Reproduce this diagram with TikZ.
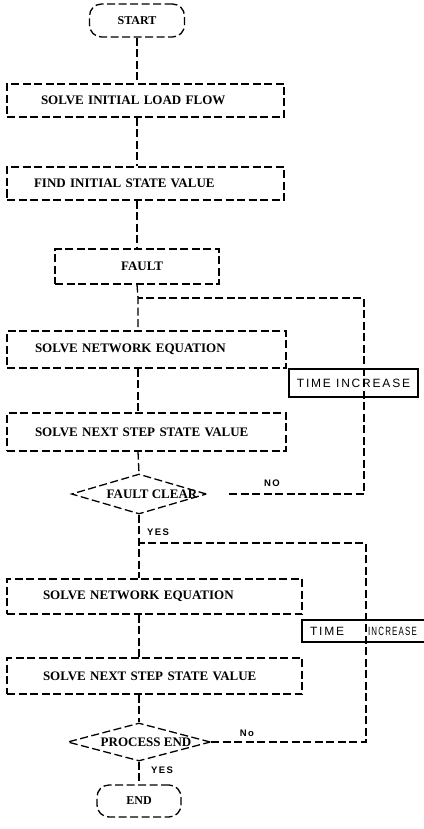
\documentclass[tikz,border=0pt]{standalone}
\usepackage{fontspec}
\usepackage{graphicx}
\setmainfont{Liberation Serif}
\newfontfamily\hand[LetterSpace=15]{Liberation Sans}
\usetikzlibrary{shapes.geometric}
\tikzset{
  dline/.style={draw=black, line width=1.3pt, dash pattern=on 8pt off 3.5pt},
  proc/.style={dline, align=left, inner ysep=0pt, font=\bfseries\fontsize{13}{15}\selectfont},
  term/.style={dline, rounded corners=12pt, inner sep=0pt, font=\bfseries\fontsize{12}{14}\selectfont},
  dec/.style={dline, shape=diamond, inner sep=0pt},
  dectext/.style={inner sep=0pt, font=\bfseries\fontsize{13}{15}\selectfont},
  tbox/.style={draw=black, line width=1.2pt, inner sep=0pt, align=left, font=\hand\fontsize{12}{14}\selectfont},
  lbl/.style={inner sep=0pt, font=\hand\bfseries\fontsize{9.5}{11}\selectfont}
}
\begin{document}
\begin{tikzpicture}[x=1pt,y=-1pt]
\useasboundingbox (0,0) rectangle (423,829);
% nodes
\node[term, minimum width=95pt, minimum height=33pt] (start) at (137,20.5) {START};
\node[proc, minimum height=33pt, text width=209pt, inner xsep=34pt] (b1) at (145.5,100.5) {SOLVE INITIAL LOAD FLOW};
\node[proc, minimum height=33pt, text width=223pt, inner xsep=27pt] (b2) at (145.5,183.5) {FIND INITIAL STATE VALUE};
\node[proc, align=center, minimum height=35pt, minimum width=164pt] (b3) at (137,266.5) {\hspace*{10pt}FAULT};
\coordinate (j1) at (138,298);
\coordinate (r1) at (364,298);
\node[proc, minimum height=37pt, text width=223pt, inner xsep=28pt] (b4) at (146.5,349.5) {SOLVE NETWORK EQUATION};
\node[proc, minimum height=38pt, text width=223pt, inner xsep=28pt] (b5) at (146.5,432) {SOLVE NEXT STEP STATE VALUE};
\node[dec, minimum width=135pt, minimum height=40pt] (d1) at (139,494) {};
\node[dectext] (d1t) at (152,494) {FAULT CLEAR};
\coordinate (j2) at (139,543);
\coordinate (r2) at (366,543);
\node[proc, minimum height=35pt, text width=223pt, inner xsep=36pt] (b6) at (154.5,596.5) {SOLVE NETWORK EQUATION};
\node[proc, minimum height=36pt, text width=223pt, inner xsep=36pt] (b7) at (154.5,676) {SOLVE NEXT STEP STATE VALUE};
\node[dec, minimum width=143pt, minimum height=38pt] (d2) at (139,742) {};
\node[dectext] (d2t) at (146,742) {PROCESS END};
\node[term, minimum width=84pt, minimum height=32pt] (end) at (139,801) {END};
% main flow
\draw[dline] (start.south) -- (start.south |- b1.north);
\draw[dline] (start.south |- b1.south) -- (start.south |- b2.north);
\draw[dline] (start.south |- b2.south) -- (start.south |- b3.north);
\draw[dline] (b3.south) -- (j1) -- (j1 |- b4.north);
\draw[dline] (j1 |- b4.south) -- (j1 |- b5.north);
\draw[dline] (j1 |- b5.south) -- (d1.north);
\draw[dline] (d1.south) -- (j2) -- (j2 |- b6.north);
\draw[dline] (j2 |- b6.south) -- (j2 |- b7.north);
\draw[dline] (j2 |- b7.south) -- (d2.north);
\draw[dline] (d2.south) -- (end.north);
% loops
\draw[dline, shorten <=22pt] (d1.east) -- (d1.east -| r1) -- (r1) -- (j1);
\draw[dline] (d2.east) -- (d2.east -| r2) -- (r2) -- (j2);
% time increase boxes
\node[tbox, minimum width=129pt, minimum height=28pt, align=center] (t1) at (353.5,383) {TIME INCREASE};
\node[tbox, minimum width=124pt, minimum height=22pt] (t2) at (364,631) {\makebox[120pt][l]{\hspace*{6pt}TIME\hspace{24pt}\scalebox{0.66}[1]{INCREASE}}};
% labels
\node[lbl] (no1) at (272,483) {NO};
\node[lbl] (yes1) at (158,532) {YES};
\node[lbl] (no2) at (247,733) {No};
\node[lbl] (yes2) at (162,770) {YES};
\end{tikzpicture}
\end{document}
